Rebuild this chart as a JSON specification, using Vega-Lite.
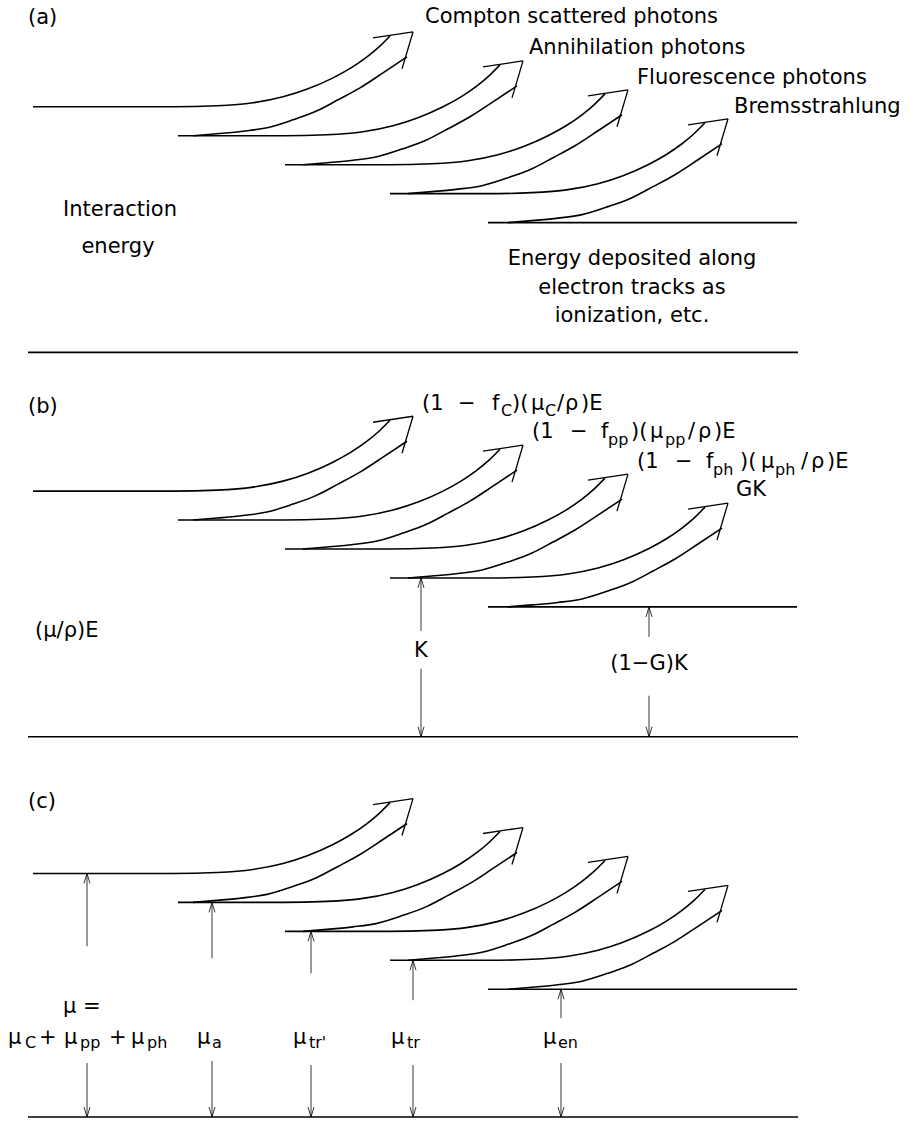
{
  "$schema": "https://vega.github.io/schema/vega-lite/v6.json",
  "width": 910,
  "height": 1121,
  "autosize": {"type": "fit", "contains": "padding"},
  "padding": 0,
  "background": "white",
  "config": {"view": {"stroke": null}},
  "datasets": {
    "paths": [
      {"id":"a0","x":33,"y":107},{"id":"a0","x":173,"y":107},{"id":"a0","x":217,"y":106},{"id":"a0","x":253,"y":103},{"id":"a0","x":283,"y":97},{"id":"a0","x":308,"y":89},{"id":"a0","x":333,"y":78},{"id":"a0","x":351,"y":68},{"id":"a0","x":367,"y":57},{"id":"a0","x":379,"y":47},{"id":"a0","x":390,"y":36},
      {"id":"a1i","x":193,"y":136},{"id":"a1i","x":217,"y":134},{"id":"a1i","x":243,"y":131.5},{"id":"a1i","x":267,"y":128},{"id":"a1i","x":293,"y":120},{"id":"a1i","x":317,"y":111},{"id":"a1i","x":338,"y":100},{"id":"a1i","x":360,"y":88},{"id":"a1i","x":383,"y":73},{"id":"a1i","x":407,"y":57},
      {"id":"a1","x":178,"y":136},{"id":"a1","x":283,"y":136},{"id":"a1","x":327,"y":135},{"id":"a1","x":363,"y":132},{"id":"a1","x":393,"y":126},{"id":"a1","x":418,"y":118},{"id":"a1","x":443,"y":107},{"id":"a1","x":461,"y":97},{"id":"a1","x":477,"y":86},{"id":"a1","x":489,"y":76},{"id":"a1","x":500,"y":65},
      {"id":"a2i","x":303,"y":165},{"id":"a2i","x":327,"y":163},{"id":"a2i","x":353,"y":160.5},{"id":"a2i","x":377,"y":157},{"id":"a2i","x":403,"y":149},{"id":"a2i","x":427,"y":140},{"id":"a2i","x":448,"y":129},{"id":"a2i","x":470,"y":117},{"id":"a2i","x":493,"y":102},{"id":"a2i","x":517,"y":86},
      {"id":"a2","x":285,"y":165},{"id":"a2","x":388,"y":165},{"id":"a2","x":432,"y":164},{"id":"a2","x":468,"y":161},{"id":"a2","x":498,"y":155},{"id":"a2","x":523,"y":147},{"id":"a2","x":548,"y":136},{"id":"a2","x":566,"y":126},{"id":"a2","x":582,"y":115},{"id":"a2","x":594,"y":105},{"id":"a2","x":605,"y":94},
      {"id":"a3i","x":408,"y":194},{"id":"a3i","x":432,"y":192},{"id":"a3i","x":458,"y":189.5},{"id":"a3i","x":482,"y":186},{"id":"a3i","x":508,"y":178},{"id":"a3i","x":532,"y":169},{"id":"a3i","x":553,"y":158},{"id":"a3i","x":575,"y":146},{"id":"a3i","x":598,"y":131},{"id":"a3i","x":622,"y":115},
      {"id":"a3","x":390,"y":194},{"id":"a3","x":488,"y":194},{"id":"a3","x":532,"y":193},{"id":"a3","x":568,"y":190},{"id":"a3","x":598,"y":184},{"id":"a3","x":623,"y":176},{"id":"a3","x":648,"y":165},{"id":"a3","x":666,"y":155},{"id":"a3","x":682,"y":144},{"id":"a3","x":694,"y":134},{"id":"a3","x":705,"y":123},
      {"id":"a4i","x":508,"y":223},{"id":"a4i","x":532,"y":221},{"id":"a4i","x":558,"y":218.5},{"id":"a4i","x":582,"y":215},{"id":"a4i","x":608,"y":207},{"id":"a4i","x":632,"y":198},{"id":"a4i","x":653,"y":187},{"id":"a4i","x":675,"y":175},{"id":"a4i","x":698,"y":160},{"id":"a4i","x":722,"y":144},
      {"id":"a4","x":488,"y":223},{"id":"a4","x":797,"y":223},
      {"id":"asep","x":28,"y":353},{"id":"asep","x":798,"y":353},

      {"id":"b0","x":33,"y":492},{"id":"b0","x":173,"y":492},{"id":"b0","x":217,"y":491},{"id":"b0","x":253,"y":488},{"id":"b0","x":283,"y":482},{"id":"b0","x":308,"y":474},{"id":"b0","x":333,"y":463},{"id":"b0","x":351,"y":453},{"id":"b0","x":367,"y":442},{"id":"b0","x":379,"y":432},{"id":"b0","x":390,"y":421},
      {"id":"b1i","x":193,"y":521},{"id":"b1i","x":217,"y":519},{"id":"b1i","x":243,"y":516.5},{"id":"b1i","x":267,"y":513},{"id":"b1i","x":293,"y":505},{"id":"b1i","x":317,"y":496},{"id":"b1i","x":338,"y":485},{"id":"b1i","x":360,"y":473},{"id":"b1i","x":383,"y":458},{"id":"b1i","x":407,"y":442},
      {"id":"b1","x":178,"y":521},{"id":"b1","x":283,"y":521},{"id":"b1","x":327,"y":520},{"id":"b1","x":363,"y":517},{"id":"b1","x":393,"y":511},{"id":"b1","x":418,"y":503},{"id":"b1","x":443,"y":492},{"id":"b1","x":461,"y":482},{"id":"b1","x":477,"y":471},{"id":"b1","x":489,"y":461},{"id":"b1","x":500,"y":450},
      {"id":"b2i","x":303,"y":550},{"id":"b2i","x":327,"y":548},{"id":"b2i","x":353,"y":545.5},{"id":"b2i","x":377,"y":542},{"id":"b2i","x":403,"y":534},{"id":"b2i","x":427,"y":525},{"id":"b2i","x":448,"y":514},{"id":"b2i","x":470,"y":502},{"id":"b2i","x":493,"y":487},{"id":"b2i","x":517,"y":471},
      {"id":"b2","x":285,"y":550},{"id":"b2","x":388,"y":550},{"id":"b2","x":432,"y":549},{"id":"b2","x":468,"y":546},{"id":"b2","x":498,"y":540},{"id":"b2","x":523,"y":532},{"id":"b2","x":548,"y":521},{"id":"b2","x":566,"y":511},{"id":"b2","x":582,"y":500},{"id":"b2","x":594,"y":490},{"id":"b2","x":605,"y":479},
      {"id":"b3i","x":408,"y":579},{"id":"b3i","x":432,"y":577},{"id":"b3i","x":458,"y":574.5},{"id":"b3i","x":482,"y":571},{"id":"b3i","x":508,"y":563},{"id":"b3i","x":532,"y":554},{"id":"b3i","x":553,"y":543},{"id":"b3i","x":575,"y":531},{"id":"b3i","x":598,"y":516},{"id":"b3i","x":622,"y":500},
      {"id":"b3","x":390,"y":579},{"id":"b3","x":488,"y":579},{"id":"b3","x":532,"y":578},{"id":"b3","x":568,"y":575},{"id":"b3","x":598,"y":569},{"id":"b3","x":623,"y":561},{"id":"b3","x":648,"y":550},{"id":"b3","x":666,"y":540},{"id":"b3","x":682,"y":529},{"id":"b3","x":694,"y":519},{"id":"b3","x":705,"y":508},
      {"id":"b4i","x":508,"y":608},{"id":"b4i","x":532,"y":606},{"id":"b4i","x":558,"y":603.5},{"id":"b4i","x":582,"y":600},{"id":"b4i","x":608,"y":592},{"id":"b4i","x":632,"y":583},{"id":"b4i","x":653,"y":572},{"id":"b4i","x":675,"y":560},{"id":"b4i","x":698,"y":545},{"id":"b4i","x":722,"y":529},
      {"id":"b4","x":488,"y":608},{"id":"b4","x":797,"y":608},
      {"id":"bbase","x":28,"y":738},{"id":"bbase","x":798,"y":738},

      {"id":"c0","x":33,"y":875},{"id":"c0","x":173,"y":875},{"id":"c0","x":217,"y":874},{"id":"c0","x":253,"y":871},{"id":"c0","x":283,"y":865},{"id":"c0","x":308,"y":857},{"id":"c0","x":333,"y":846},{"id":"c0","x":351,"y":836},{"id":"c0","x":367,"y":825},{"id":"c0","x":379,"y":815},{"id":"c0","x":390,"y":804},
      {"id":"c1i","x":193,"y":904},{"id":"c1i","x":217,"y":902},{"id":"c1i","x":243,"y":899.5},{"id":"c1i","x":267,"y":896},{"id":"c1i","x":293,"y":888},{"id":"c1i","x":317,"y":879},{"id":"c1i","x":338,"y":868},{"id":"c1i","x":360,"y":856},{"id":"c1i","x":383,"y":841},{"id":"c1i","x":407,"y":825},
      {"id":"c1","x":178,"y":904},{"id":"c1","x":283,"y":904},{"id":"c1","x":327,"y":903},{"id":"c1","x":363,"y":900},{"id":"c1","x":393,"y":894},{"id":"c1","x":418,"y":886},{"id":"c1","x":443,"y":875},{"id":"c1","x":461,"y":865},{"id":"c1","x":477,"y":854},{"id":"c1","x":489,"y":844},{"id":"c1","x":500,"y":833},
      {"id":"c2i","x":303,"y":933},{"id":"c2i","x":327,"y":931},{"id":"c2i","x":353,"y":928.5},{"id":"c2i","x":377,"y":925},{"id":"c2i","x":403,"y":917},{"id":"c2i","x":427,"y":908},{"id":"c2i","x":448,"y":897},{"id":"c2i","x":470,"y":885},{"id":"c2i","x":493,"y":870},{"id":"c2i","x":517,"y":854},
      {"id":"c2","x":285,"y":933},{"id":"c2","x":388,"y":933},{"id":"c2","x":432,"y":932},{"id":"c2","x":468,"y":929},{"id":"c2","x":498,"y":923},{"id":"c2","x":523,"y":915},{"id":"c2","x":548,"y":904},{"id":"c2","x":566,"y":894},{"id":"c2","x":582,"y":883},{"id":"c2","x":594,"y":873},{"id":"c2","x":605,"y":862},
      {"id":"c3i","x":408,"y":962},{"id":"c3i","x":432,"y":960},{"id":"c3i","x":458,"y":957.5},{"id":"c3i","x":482,"y":954},{"id":"c3i","x":508,"y":946},{"id":"c3i","x":532,"y":937},{"id":"c3i","x":553,"y":926},{"id":"c3i","x":575,"y":914},{"id":"c3i","x":598,"y":899},{"id":"c3i","x":622,"y":883},
      {"id":"c3","x":390,"y":962},{"id":"c3","x":488,"y":962},{"id":"c3","x":532,"y":961},{"id":"c3","x":568,"y":958},{"id":"c3","x":598,"y":952},{"id":"c3","x":623,"y":944},{"id":"c3","x":648,"y":933},{"id":"c3","x":666,"y":923},{"id":"c3","x":682,"y":912},{"id":"c3","x":694,"y":902},{"id":"c3","x":705,"y":891},
      {"id":"c4i","x":508,"y":991},{"id":"c4i","x":532,"y":989},{"id":"c4i","x":558,"y":986.5},{"id":"c4i","x":582,"y":983},{"id":"c4i","x":608,"y":975},{"id":"c4i","x":632,"y":966},{"id":"c4i","x":653,"y":955},{"id":"c4i","x":675,"y":943},{"id":"c4i","x":698,"y":928},{"id":"c4i","x":722,"y":912},
      {"id":"c4","x":488,"y":991},{"id":"c4","x":797,"y":991},
      {"id":"cbase","x":28,"y":1119},{"id":"cbase","x":798,"y":1119}
    ],
    "heads": [
      {"x":373,"y":38,"x2":413,"y2":32},{"x":402,"y":69,"x2":413,"y2":32},
      {"x":483,"y":67,"x2":523,"y2":61},{"x":512,"y":98,"x2":523,"y2":61},
      {"x":588,"y":96,"x2":628,"y2":90},{"x":617,"y":127,"x2":628,"y2":90},
      {"x":688,"y":125,"x2":728,"y2":119},{"x":717,"y":156,"x2":728,"y2":119},
      {"x":373,"y":423,"x2":413,"y2":417},{"x":402,"y":454,"x2":413,"y2":417},
      {"x":483,"y":452,"x2":523,"y2":446},{"x":512,"y":483,"x2":523,"y2":446},
      {"x":588,"y":481,"x2":628,"y2":475},{"x":617,"y":512,"x2":628,"y2":475},
      {"x":688,"y":510,"x2":728,"y2":504},{"x":717,"y":541,"x2":728,"y2":504},
      {"x":373,"y":806,"x2":413,"y2":800},{"x":402,"y":837,"x2":413,"y2":800},
      {"x":483,"y":835,"x2":523,"y2":829},{"x":512,"y":866,"x2":523,"y2":829},
      {"x":588,"y":864,"x2":628,"y2":858},{"x":617,"y":895,"x2":628,"y2":858},
      {"x":688,"y":893,"x2":728,"y2":887},{"x":717,"y":924,"x2":728,"y2":887}
    ],
    "thin": [
      {"x":421,"y":579,"x2":421,"y2":632},{"x":421,"y":670,"x2":421,"y2":738},
      {"x":418,"y":589,"x2":421,"y2":579},{"x":424,"y":589,"x2":421,"y2":579},
      {"x":418,"y":728,"x2":421,"y2":738},{"x":424,"y":728,"x2":421,"y2":738},
      {"x":649,"y":608,"x2":649,"y2":638},{"x":649,"y":697,"x2":649,"y2":738},
      {"x":646,"y":618,"x2":649,"y2":608},{"x":652,"y":618,"x2":649,"y2":608},
      {"x":646,"y":728,"x2":649,"y2":738},{"x":652,"y":728,"x2":649,"y2":738},
      {"x":87,"y":875,"x2":87,"y2":948},{"x":87,"y":1065,"x2":87,"y2":1119},
      {"x":84,"y":885,"x2":87,"y2":875},{"x":90,"y":885,"x2":87,"y2":875},
      {"x":84,"y":1109,"x2":87,"y2":1119},{"x":90,"y":1109,"x2":87,"y2":1119},
      {"x":212,"y":904,"x2":212,"y2":960},{"x":212,"y":1063,"x2":212,"y2":1119},
      {"x":209,"y":914,"x2":212,"y2":904},{"x":215,"y":914,"x2":212,"y2":904},
      {"x":209,"y":1109,"x2":212,"y2":1119},{"x":215,"y":1109,"x2":212,"y2":1119},
      {"x":311,"y":933,"x2":311,"y2":975},{"x":311,"y":1067,"x2":311,"y2":1119},
      {"x":308,"y":943,"x2":311,"y2":933},{"x":314,"y":943,"x2":311,"y2":933},
      {"x":308,"y":1109,"x2":311,"y2":1119},{"x":314,"y":1109,"x2":311,"y2":1119},
      {"x":413,"y":962,"x2":413,"y2":1002},{"x":413,"y":1067,"x2":413,"y2":1119},
      {"x":410,"y":972,"x2":413,"y2":962},{"x":416,"y":972,"x2":413,"y2":962},
      {"x":410,"y":1109,"x2":413,"y2":1119},{"x":416,"y":1109,"x2":413,"y2":1119},
      {"x":561,"y":991,"x2":561,"y2":1020},{"x":561,"y":1065,"x2":561,"y2":1119},
      {"x":558,"y":1001,"x2":561,"y2":991},{"x":564,"y":1001,"x2":561,"y2":991},
      {"x":558,"y":1109,"x2":561,"y2":1119},{"x":564,"y":1109,"x2":561,"y2":1119}
    ],
    "tl": [
      {"t":"(a)","x":28,"y":18},
      {"t":"Compton scattered photons","x":425,"y":17},
      {"t":"Annihilation photons","x":529,"y":48},
      {"t":"Fluorescence photons","x":637,"y":78},
      {"t":"Bremsstrahlung","x":734,"y":107},
      {"t":"(b)","x":28,"y":408},
      {"t":"(c)","x":28,"y":803},
      {"t":"(μ/ρ)E","x":35,"y":632},
      {"t":"(1","x":422,"y":405},{"t":"−","x":458,"y":405},{"t":"f","x":492,"y":405},{"t":")(","x":512,"y":405},{"t":"μ","x":531,"y":405},{"t":"/","x":557,"y":405},{"t":"ρ","x":565,"y":405},{"t":")E","x":581,"y":405},
      {"t":"(1","x":532,"y":433},{"t":"−","x":570,"y":433},{"t":"f","x":601,"y":433},{"t":")(","x":631,"y":433},{"t":"μ","x":650,"y":433},{"t":"/","x":688,"y":433},{"t":"ρ","x":698,"y":433},{"t":")E","x":714,"y":433},
      {"t":"(1","x":637,"y":463},{"t":"−","x":675,"y":463},{"t":"f","x":706,"y":463},{"t":")(","x":740,"y":463},{"t":"μ","x":761,"y":463},{"t":"/","x":801,"y":463},{"t":"ρ","x":811,"y":463},{"t":")E","x":827,"y":463},
      {"t":"GK","x":736,"y":491},
      {"t":"μ =","x":63,"y":1009},
      {"t":"μ","x":8,"y":1040},{"t":"+","x":39,"y":1040},{"t":"μ","x":64,"y":1040},{"t":"+","x":109,"y":1040},{"t":"μ","x":131,"y":1040},
      {"t":"μ","x":197,"y":1040},{"t":"μ","x":293,"y":1040},{"t":"μ","x":391,"y":1040},{"t":"μ","x":543,"y":1040}
    ],
    "tc": [
      {"t":"Interaction","x":120,"y":210},
      {"t":"energy","x":118,"y":247},
      {"t":"Energy deposited along","x":632,"y":259},
      {"t":"electron tracks as","x":632,"y":289},
      {"t":"ionization, etc.","x":632,"y":317},
      {"t":"K","x":421,"y":652},
      {"t":"(1−G)K","x":649,"y":665}
    ],
    "ts": [
      {"t":"C","x":501,"y":412},{"t":"C","x":545,"y":412},
      {"t":"pp","x":608,"y":441},{"t":"pp","x":665,"y":441},
      {"t":"ph","x":713,"y":471},{"t":"ph","x":775,"y":471},
      {"t":"C","x":25,"y":1045},{"t":"pp","x":80,"y":1045},{"t":"ph","x":147,"y":1045},
      {"t":"a","x":212,"y":1045},{"t":"tr'","x":309,"y":1045},{"t":"tr","x":407,"y":1045},{"t":"en","x":558,"y":1045}
    ]
  },
  "layer": [
    {
      "data": {"name": "paths"},
      "mark": {"type": "line", "interpolate": "monotone", "stroke": "black", "strokeWidth": 1.6},
      "encoding": {
        "x": {"field": "x", "type": "quantitative", "scale": {"domain": [0, 910], "nice": false, "zero": false}, "axis": null},
        "y": {"field": "y", "type": "quantitative", "scale": {"domain": [0, 1121], "nice": false, "zero": false, "reverse": true}, "axis": null},
        "detail": {"field": "id", "type": "nominal"}
      }
    },
    {
      "data": {"name": "heads"},
      "mark": {"type": "rule", "stroke": "black", "strokeWidth": 1.3},
      "encoding": {
        "x": {"field": "x", "type": "quantitative"},
        "y": {"field": "y", "type": "quantitative"},
        "x2": {"field": "x2"},
        "y2": {"field": "y2"}
      }
    },
    {
      "data": {"name": "thin"},
      "mark": {"type": "rule", "stroke": "black", "strokeWidth": 0.8},
      "encoding": {
        "x": {"field": "x", "type": "quantitative"},
        "y": {"field": "y", "type": "quantitative"},
        "x2": {"field": "x2"},
        "y2": {"field": "y2"}
      }
    },
    {
      "data": {"name": "tl"},
      "mark": {"type": "text", "align": "left", "baseline": "middle", "font": "DejaVu Sans", "fontSize": 21, "color": "black"},
      "encoding": {
        "x": {"field": "x", "type": "quantitative"},
        "y": {"field": "y", "type": "quantitative"},
        "text": {"field": "t"}
      }
    },
    {
      "data": {"name": "tc"},
      "mark": {"type": "text", "align": "center", "baseline": "middle", "font": "DejaVu Sans", "fontSize": 21, "color": "black"},
      "encoding": {
        "x": {"field": "x", "type": "quantitative"},
        "y": {"field": "y", "type": "quantitative"},
        "text": {"field": "t"}
      }
    },
    {
      "data": {"name": "ts"},
      "mark": {"type": "text", "align": "left", "baseline": "middle", "font": "DejaVu Sans", "fontSize": 16, "color": "black"},
      "encoding": {
        "x": {"field": "x", "type": "quantitative"},
        "y": {"field": "y", "type": "quantitative"},
        "text": {"field": "t"}
      }
    }
  ]
}
